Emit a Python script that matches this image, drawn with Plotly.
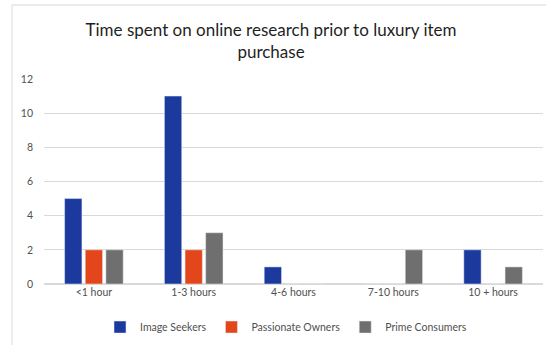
import plotly.graph_objects as go

categories = ["<1 hour", "1-3 hours", "4-6 hours", "7-10 hours", "10 + hours"]
image_seekers = [5, 11, 1, 0, 2]
passionate_owners = [2, 2, 0, 0, 0]
prime_consumers = [2, 3, 0, 2, 1]
y_ticks = [0, 2, 4, 6, 8, 10, 12]

FONT = "Lato"

fig = go.Figure()
fig.add_bar(name="Image Seekers", x=categories, y=image_seekers, marker_color="#1c3a9e")
fig.add_bar(name="Passionate Owners", x=categories, y=passionate_owners, marker_color="#e4461c")
fig.add_bar(name="Prime Consumers", x=categories, y=prime_consumers, marker_color="#6f6f6f")

fig.update_layout(
    width=546, height=345,
    margin=dict(l=44, r=3, t=79, b=61),
    paper_bgcolor="white", plot_bgcolor="white",
    barmode="group", bargap=0.38, bargroupgap=0.16,
    font=dict(family=FONT, size=10, color="#595959"),
    title=dict(
        text="Time spent on online research prior to luxury item<br>purchase",
        x=0.455, xref="paper", xanchor="center",
        y=1 - 36 / 345, yref="container", yanchor="middle",
        font=dict(family=FONT, size=17, color="#1f1f1f"),
    ),
    legend=dict(orientation="h", x=0.485, xanchor="center", y=-0.21, yanchor="middle",
                font=dict(family=FONT, size=10.5, color="#505050"),
                itemwidth=30, tracegroupgap=0),
    showlegend=True,
    shapes=[dict(type="rect", xref="paper", yref="paper", x0=-0.0641, x1=1.05, y0=-0.35, y1=1.361,
                 line=dict(color="#d9d9d9", width=1), fillcolor="rgba(0,0,0,0)", layer="below")],
)
fig.update_yaxes(range=[0, 12], tickvals=y_ticks, showgrid=True, gridcolor="#d9d9d9",
                 zeroline=True, zerolinecolor="#d9d9d9", showline=False, ticklabelstandoff=10,
                 tickfont=dict(family=FONT, size=10.5, color="#505050"))
fig.update_xaxes(showgrid=False, showline=False, tickfont=dict(family=FONT, size=10.5, color="#505050"))

fig.write_html("out.html")
